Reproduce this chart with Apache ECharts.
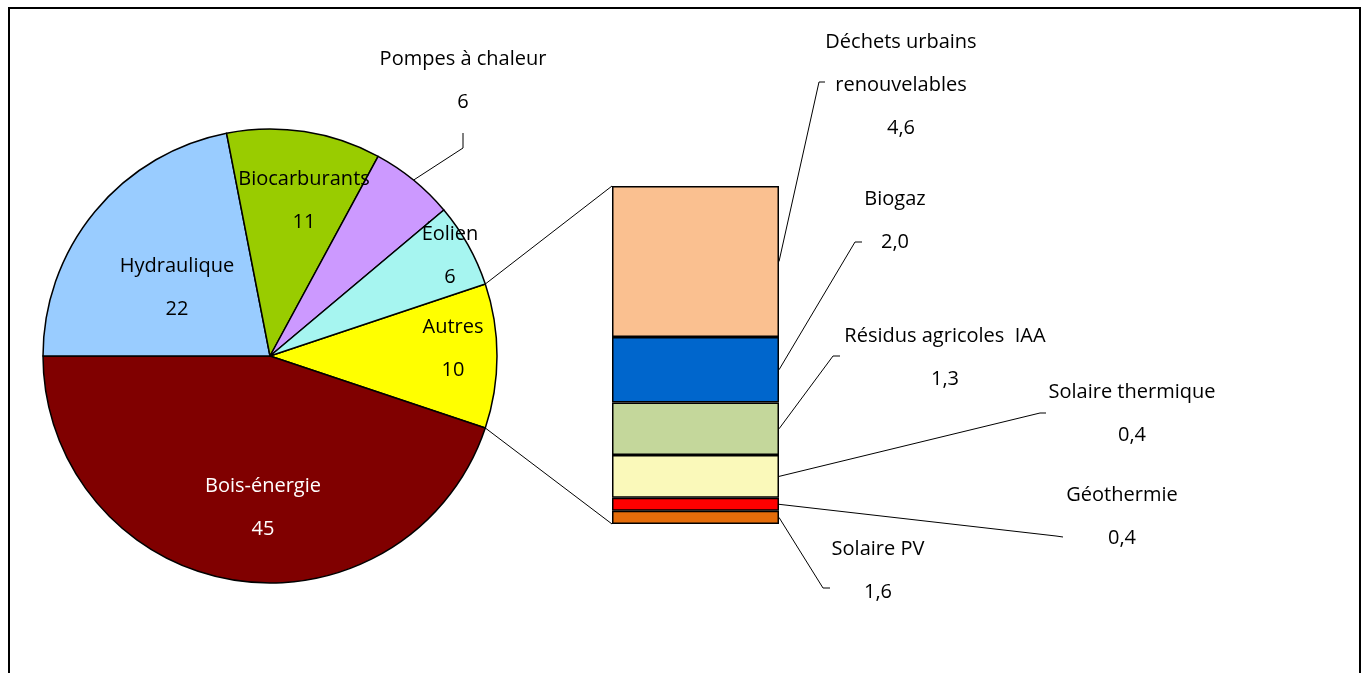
<!DOCTYPE html>
<html>
<head>
<meta charset="utf-8">
<script src="https://cdn.jsdelivr.net/npm/echarts@6/dist/echarts.min.js"></script>
<style>
  html, body { margin: 0; padding: 0; background: #fff; overflow: hidden; }
  #frame { position: absolute; left: 8px; top: 7px; width: 1353px; height: 720px; border: 2px solid #000; box-sizing: border-box; }
  #main { position: absolute; left: 0; top: 0; width: 1366px; height: 673px; }
</style>
</head>
<body>
<div id="frame"></div>
<div id="main"></div>
<script>
// pie, clockwise starting with the split slice ("Autres" = total of the bar)
const pieNames = ['Autres', 'Bois-énergie', 'Hydraulique', 'Biocarburants', 'Pompes à chaleur', 'Éolien'];
const pieValues = [10.3, 45, 22, 11, 6, 6];
const pieColors = ['#FFFF00', '#800000', '#99CCFF', '#99CC00', '#CC99FF', '#A6F5F0'];

// stacked bar detail of "Autres", bottom to top
const barNames = ['Solaire PV', 'Géothermie', 'Solaire thermique', 'Résidus agricoles  IAA', 'Biogaz', 'Déchets urbains\nrenouvelables'];
const barValues = [0.4, 0.4, 1.3, 1.6, 2.0, 4.6];
const barLabels = ['1,6', '0,4', '0,4', '1,3', '2,0', '4,6'];
const barColors = ['#E46C0A', '#FF0000', '#FAF9BA', '#C4D79B', '#0066CC', '#FAC090'];

const font = 'Open Sans';
const fontSize = 20;

// label placement (block centre) and leader elbows
const pieLabelPos = {
  'Autres': [453, 349],
  'Bois-énergie': [263, 508],
  'Hydraulique': [177, 288],
  'Biocarburants': [304, 201],
  'Pompes à chaleur': [463, 81],
  'Éolien': [450, 256]
};
const pieLeader = { 'Pompes à chaleur': [[463, 148], [463, 133]] };

const barLabelPos = [[878, 571], [1122, 517], [1132, 414], [945, 358], [895, 221], [901, 85]];
const barLeader = [
  [[823, 588], [830, 588]],
  [[1056, 536], [1063, 537]],
  [[1040, 413], [1046, 413]],
  [[833, 356], [840, 356]],
  [[855, 242], [862, 242]],
  [[819, 82], [825, 82]]
];

const pieCenter = [270, 356];
const pieRadius = 227;
const barW = 167;
const pieTotal = pieValues.reduce((a, b) => a + b, 0);
const barTotal = barValues.reduce((a, b) => a + b, 0);
// split slice centred on 3 o'clock
const pieStart = pieValues[0] / pieTotal * 180;

function pieAngle(v) {
  return (pieStart - v / pieTotal * 360) * Math.PI / 180;
}
function piePoint(a) {
  return [pieCenter[0] + pieRadius * Math.cos(a), pieCenter[1] - pieRadius * Math.sin(a)];
}
function arcMid(i) {
  let before = 0;
  for (let j = 0; j < i; j++) before += pieValues[j];
  return piePoint(pieAngle(before + pieValues[i] / 2));
}

const chart = echarts.init(document.getElementById('main'));

const labelBase = {
  show: true,
  fontFamily: font,
  fontSize: fontSize,
  lineHeight: 43,
  color: '#000',
  align: 'center'
};

const pieSeries = {
  type: 'pie',
  center: pieCenter,
  radius: pieRadius,
  startAngle: pieStart,
  clockwise: true,
  avoidLabelOverlap: false,
  silent: true,
  itemStyle: { borderColor: '#000', borderWidth: 1.5 },
  label: Object.assign({}, labelBase, {
    position: 'inside',
    formatter: p => p.name + '\n' + Math.round(p.value)
  }),
  labelLine: { show: false },
  data: pieNames.map((n, i) => {
    const item = { name: n, value: pieValues[i], itemStyle: { color: pieColors[i] } };
    if (n === 'Bois-énergie') item.label = { color: '#fff' };
    if (pieLeader[n]) {
      item.label = { position: 'outside' };
      item.labelLine = { show: true, lineStyle: { color: '#000', width: 1 } };
    }
    return item;
  }),
  labelLayout: p => {
    const n = pieNames[p.dataIndex];
    const pos = pieLabelPos[n];
    const out = { x: pos[0], y: pos[1], align: 'center', verticalAlign: 'middle' };
    if (pieLeader[n]) out.labelLinePoints = [arcMid(p.dataIndex)].concat(pieLeader[n]);
    return out;
  }
};

const barSeries = barNames.map((n, i) => ({
  type: 'bar',
  name: n,
  stack: 'autres',
  data: [barValues[i]],
  barWidth: '100%',
  silent: true,
  itemStyle: { color: barColors[i], borderColor: '#000', borderWidth: 1.5 },
  label: Object.assign({}, labelBase, {
    position: 'right',
    formatter: () => n + '\n' + barLabels[i]
  }),
  labelLayout: () => ({
    x: barLabelPos[i][0],
    y: barLabelPos[i][1],
    align: 'center',
    verticalAlign: 'middle'
  })
}));

chart.setOption({
  animation: false,
  grid: { left: 612, top: 186, width: barW, height: 338 },
  xAxis: { type: 'category', data: [''], show: false },
  yAxis: { type: 'value', min: 0, max: barTotal, show: false },
  series: [pieSeries].concat(barSeries)
});

const lineStyle = { stroke: '#000', lineWidth: 1, fill: null };
const graphics = [];

// connectors from the "Autres" slice to the bar
const topPx = chart.convertToPixel({ gridIndex: 0 }, [0, barTotal]);
const botPx = chart.convertToPixel({ gridIndex: 0 }, [0, 0]);
const sliceTop = piePoint(pieAngle(0));
const sliceBot = piePoint(pieAngle(pieValues[0]));
graphics.push({ type: 'polyline', silent: true, shape: { points: [sliceTop, [topPx[0] - barW / 2, topPx[1]]] }, style: lineStyle });
graphics.push({ type: 'polyline', silent: true, shape: { points: [sliceBot, [botPx[0] - barW / 2, botPx[1]]] }, style: lineStyle });

// leader lines from each bar segment to its label
let cum = 0;
barValues.forEach((v, i) => {
  const mid = chart.convertToPixel({ gridIndex: 0 }, [0, cum + v / 2]);
  cum += v;
  const pts = [[mid[0] + barW / 2, mid[1]]].concat(barLeader[i]);
  graphics.push({ type: 'polyline', silent: true, shape: { points: pts }, style: lineStyle });
});

chart.setOption({ graphic: graphics });
</script>
</body>
</html>
